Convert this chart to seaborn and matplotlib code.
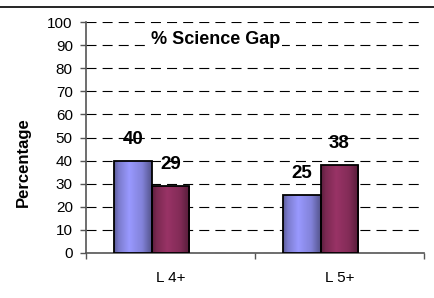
import numpy as np
import pandas as pd
import matplotlib
matplotlib.use("Agg")
import matplotlib.pyplot as plt
import seaborn as sns
from matplotlib.colors import to_rgb
from matplotlib.lines import Line2D

categories = ["L 4+", "L 5+"]
series_names = ["A", "B", "C"]
series_a = [40, 25]
series_b = [29, 38]
series_c = [np.nan, np.nan]
colors = ["#9999FF", "#993366", "#FFFFCC"]
title = "% Science Gap"
ylabel = "Percentage"
yticks = list(range(0, 101, 10))

sns.set_theme(style="white")
plt.rcParams["font.family"] = ["Liberation Sans", "DejaVu Sans"]

rows = []
for s, vals in zip(series_names, [series_a, series_b, series_c]):
    for c, v in zip(categories, vals):
        rows.append({"cat": c, "series": s, "value": v})
df = pd.DataFrame(rows)

fig = plt.figure(figsize=(4.34, 2.98), dpi=100)
ax = fig.add_axes([86/434, 1-253/298, (424-86)/434, (253-22)/298])

sns.barplot(data=df, x="cat", y="value", hue="series", hue_order=series_names,
            order=categories, palette=colors, width=0.667, dodge=True,
            edgecolor="black", linewidth=1.3, saturation=1, legend=False, ax=ax,
            err_kws={"linewidth": 0}, zorder=3)

ax.set_xlim(-0.5, 1.5)
ax.set_ylim(0, 100)
ax.set_yticks(yticks)
ax.set_yticklabels([str(t) for t in yticks], fontsize=11, color="black")
ax.set_xticks([-0.5, 0.5, 1.5], minor=True)
ax.set_xticks([0, 1])
ax.set_xticklabels(categories, fontsize=11, color="black")
ax.tick_params(axis="x", which="major", length=0, pad=13)
ax.tick_params(axis="x", which="minor", length=4, width=1, color="#555555", direction="out", bottom=True)
ax.tick_params(axis="y", length=4, width=1, color="#555555", direction="out", left=True, pad=5.5)
ax.set_xlabel("")
ax.set_ylabel("")
fig.text(23/434, 1 - 162/298, ylabel, rotation=90, ha="center", va="center",
         fontsize=12, fontweight="bold", color="black")

ax.yaxis.grid(True, linestyle=(0, (9, 5.5)), color="black", linewidth=0.8)
ax.set_axisbelow(True)
for sp in ["top", "right"]:
    ax.spines[sp].set_visible(False)
for sp in ["left", "bottom"]:
    ax.spines[sp].set_color("#555555")
    ax.spines[sp].set_linewidth(1.2)

# gradient shading for bars
prof_t = np.array([0.0, 0.12, 0.4, 0.75, 1.0])
prof_f = np.array([0.6, 0.8, 1.0, 0.85, 0.55])
t = np.linspace(0, 1, 64)
f = np.interp(t, prof_t, prof_f)
for p in list(ax.patches):
    h = p.get_height()
    if not np.isfinite(h) or h <= 0:
        continue
    base = np.array(to_rgb(p.get_facecolor()))
    grad = np.clip(f[None, :, None] * base[None, None, :], 0, 1)
    x0, w = p.get_x(), p.get_width()
    im = ax.imshow(grad, extent=[x0, x0 + w, 0, h], aspect="auto",
                   interpolation="bilinear", zorder=2.9)
    im.set_clip_path(p)
    p.set_facecolor("none")
    p.set_zorder(3.1)
    ax.annotate(f"{int(round(h))}", (x0 + w / 2, h), xytext=(0, 15.5),
                textcoords="offset points", ha="center", va="center",
                fontsize=13.5, fontweight="bold", color="black", zorder=4)

ax.set_xlim(-0.5, 1.5)
ax.set_ylim(0, 100)

fig.text(151/434, 1 - 39/298, title, ha="left", va="center",
         fontsize=13, fontweight="bold", color="black", zorder=5,
         bbox=dict(facecolor="white", edgecolor="none", pad=1))

fig.add_artist(Line2D([0, 1], [1 - 7/298, 1 - 7/298], transform=fig.transFigure,
                      color="black", linewidth=1.2))

fig.savefig("out.png", dpi=100)
